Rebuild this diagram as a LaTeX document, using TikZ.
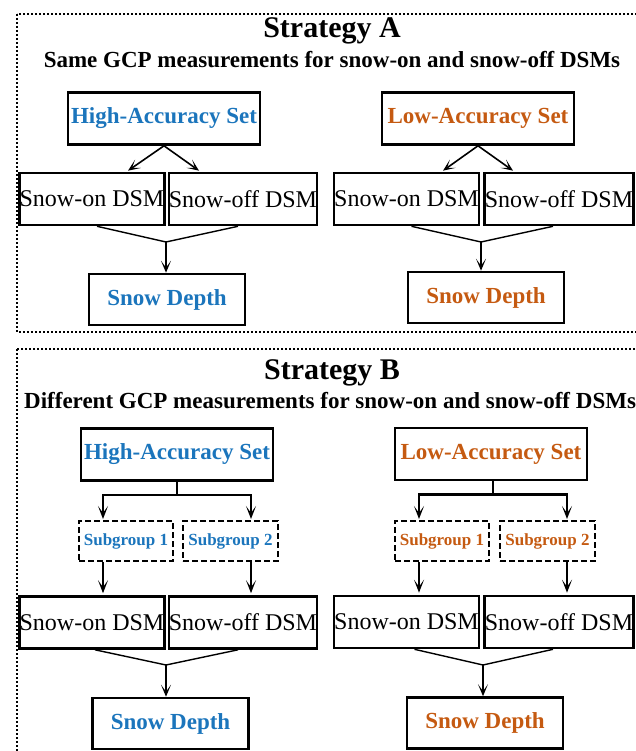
\documentclass[tikz,border=0pt]{standalone}
\usepackage{fontspec}
\setmainfont{Liberation Serif}
\usetikzlibrary{arrows.meta,calc}
\definecolor{hiblue}{HTML}{1B75BC}
\definecolor{loorange}{HTML}{C55A11}
\tikzset{
    frame-box/.style = {draw, line width=2.2pt, dash pattern=on 2pt off 2pt},
    title-text/.style = {inner sep=0pt, font=\fontsize{30}{30}\selectfont\bfseries},
    subtitle-text/.style = {inner sep=0pt, font=\fontsize{23}{23}\selectfont\bfseries},
    set-box/.style = {draw, line width=2.6pt, inner sep=0pt, minimum width=192pt, minimum height=52pt, font=\fontsize{23}{23}\selectfont\bfseries},
    dsm-box/.style = {draw, line width=2.6pt, inner sep=0pt, minimum height=52pt, font=\fontsize{24}{24}\selectfont},
    sub-box/.style = {draw, line width=2pt, dash pattern=on 6pt off 3pt, inner sep=0pt, minimum height=40pt, font=\fontsize{17}{17}\selectfont\bfseries},
    depth-box/.style = {draw, line width=2.6pt, inner sep=0pt, minimum width=156pt, minimum height=51pt, font=\fontsize{23}{23}\selectfont\bfseries},
    link/.style = {-{Stealth[length=12pt,width=10pt,inset=7pt]}, line width=1.6pt},
    thick-link/.style = {-{Stealth[length=13pt,width=10pt,inset=7pt]}, line width=2.4pt},
    merge-line/.style = {line width=1.4pt},
    thick-line/.style = {line width=2.4pt},
}
\begin{document}
\begin{tikzpicture}[x=1pt,y=-1pt]
\useasboundingbox (0,0) rectangle (635,751);
% dotted frames
\draw[frame-box] (17,14) rectangle (665,332);
\draw[frame-box] (17,349) rectangle (665,790);

% Strategy A
\node[title-text, anchor=base] (titleA) at (332,38) {Strategy A};
\node[subtitle-text, anchor=base] (subA) at (332,68) {Same GCP measurements for snow-on and snow-off DSMs};

\node[set-box, text=hiblue] (hiA) at (164,118.5) {High-Accuracy Set};
\node[set-box, text=loorange] (loA) at (478,118.5) {Low-Accuracy Set};
\node[dsm-box, minimum width=138pt] (onA) at (92,199) {Snow-on DSM};
\node[dsm-box, minimum width=148pt] (offA) at (243,199) {Snow-off DSM};
\node[dsm-box, minimum width=140pt] (onA2) at (406.5,199) {Snow-on DSM};
\node[dsm-box, minimum width=149pt] (offA2) at (559,199) {Snow-off DSM};
\node[depth-box, text=hiblue] (depthA) at (167,299.5) {Snow Depth};
\node[depth-box, text=loorange] (depthA2) at (486,297.5) {Snow Depth};

\draw[link] (hiA.south) -- ($(hiA.south |- onA.north)+(-36,-1)$);
\draw[link] (hiA.south) -- ($(hiA.south |- onA.north)+(35,-1)$);
\draw[link] (loA.south) -- ($(loA.south |- onA2.north)+(-35,-1)$);
\draw[link] (loA.south) -- ($(loA.south |- onA2.north)+(35,-1)$);

\coordinate (mA) at (166,242);
\coordinate (mA2) at (481,242);
\draw[merge-line] ($(onA.south)+(5,0)$) -- (mA) -- ($(offA.south)+(-5,0)$);
\draw[merge-line] ($(onA2.south)+(5,0)$) -- (mA2) -- ($(offA2.south)+(-6,0)$);
\draw[link] (mA) -- (mA |- depthA.north);
\draw[link] (mA2) -- (mA2 |- depthA2.north);

% Strategy B
\node[title-text, anchor=base] (titleB) at (332,379) {Strategy B};
\node[subtitle-text, anchor=base west] (subB) at (24,408) {Different GCP measurements for snow-on and snow-off DSMs};

\node[set-box, text=hiblue] (hiB) at (177,454.5) {High-Accuracy Set};
\node[set-box, text=loorange] (loB) at (491,454) {Low-Accuracy Set};
\node[sub-box, minimum width=94pt, text=hiblue] (sub1B) at (126,541) {Subgroup 1};
\node[sub-box, minimum width=95pt, text=hiblue] (sub2B) at (230.5,541) {Subgroup 2};
\node[sub-box, minimum width=94pt, text=loorange] (sub1B2) at (442,541) {Subgroup 1};
\node[sub-box, minimum width=95pt, text=loorange] (sub2B2) at (547.5,541) {Subgroup 2};
\node[dsm-box, minimum width=138pt] (onB) at (92,622.5) {Snow-on DSM};
\node[dsm-box, minimum width=148pt] (offB) at (243,622.5) {Snow-off DSM};
\node[dsm-box, minimum width=140pt] (onB2) at (406.5,622) {Snow-on DSM};
\node[dsm-box, minimum width=149pt] (offB2) at (559,622) {Snow-off DSM};
\node[depth-box, text=hiblue] (depthB) at (170.5,723.5) {Snow Depth};
\node[depth-box, text=loorange] (depthB2) at (485,723) {Snow Depth};

\coordinate (brB) at ($(hiB.south)+(0,13)$);
\coordinate (brB2) at ($(loB.south)+(2,13)$);
\draw[thick-line] (hiB.south) -- (brB);
\draw[thick-line] (loB.south -| brB2) -- (brB2);
\draw[thick-link] (brB) -| ($(brB |- sub1B.north)+(-74,-1)$);
\draw[thick-link] (brB) -| ($(brB |- sub2B.north)+(74,-1)$);
\draw[thick-link] (brB2) -| ($(brB2 |- sub1B2.north)+(-74,-1)$);
\draw[thick-link] (brB2) -| ($(brB2 |- sub2B2.north)+(74,-1)$);

\draw[thick-link] ($(brB |- sub1B.south)+(-74,0)$) -- ($(brB |- onB.north)+(-74,-2)$);
\draw[thick-link] ($(brB |- sub2B.south)+(74,0)$) -- ($(brB |- offB.north)+(74,-2)$);
\draw[thick-link] ($(brB2 |- sub1B2.south)+(-74,0)$) -- ($(brB2 |- onB2.north)+(-74,-2)$);
\draw[thick-link] ($(brB2 |- sub2B2.south)+(74,0)$) -- ($(brB2 |- offB2.north)+(74,-2)$);

\coordinate (mB) at (166,665);
\coordinate (mB2) at (483,665);
\draw[merge-line] ($(onB.south)+(3,0)$) -- (mB) -- ($(offB.south)+(-5,0)$);
\draw[merge-line] ($(onB2.south)+(8,0)$) -- (mB2) -- ($(offB2.south)+(-6,0)$);
\draw[link] (mB) -- (mB |- depthB.north);
\draw[link] (mB2) -- (mB2 |- depthB2.north);
\end{tikzpicture}
\end{document}
